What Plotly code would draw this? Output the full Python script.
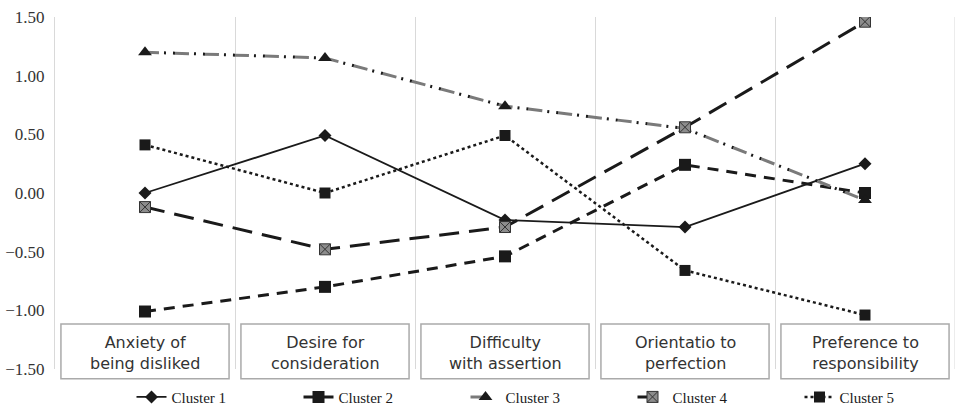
import plotly.graph_objects as go

categories = ["Anxiety of<br>being disliked", "Desire for<br>consideration",
              "Difficulty<br>with assertion", "Orientatio to<br>perfection",
              "Preference to<br>responsibility"]
series_names = ["Cluster 1", "Cluster 2", "Cluster 3", "Cluster 4", "Cluster 5"]
cluster1 = [0.00, 0.49, -0.23, -0.29, 0.25]
cluster2 = [-1.01, -0.80, -0.54, 0.24, 0.00]
cluster3 = [1.20, 1.15, 0.74, 0.55, -0.06]
cluster4 = [-0.12, -0.48, -0.29, 0.56, 1.46]
cluster5 = [0.41, 0.00, 0.49, -0.66, -1.04]
y_ticks = [1.5, 1.0, 0.5, 0.0, -0.5, -1.0, -1.5]

x = list(range(len(categories)))
fig = go.Figure()

fig.add_trace(go.Scatter(x=x, y=cluster1, name=series_names[0], mode="lines+markers",
                         line=dict(color="#1a1a1a", width=1.8, dash="solid"),
                         marker=dict(symbol="diamond", size=10, color="#1a1a1a")))
fig.add_trace(go.Scatter(x=x, y=cluster2, name=series_names[1], mode="lines+markers",
                         line=dict(color="#1a1a1a", width=3, dash="11px,8px"),
                         marker=dict(symbol="square", size=12, color="#1a1a1a")))
# cluster 3: gray dashes + black dots
fig.add_trace(go.Scatter(x=x, y=cluster3, name=series_names[2], mode="lines+markers",
                         line=dict(color="#7a7a7a", width=3, dash="14px,16px"),
                         marker=dict(symbol="triangle-up", size=12, color="#1a1a1a")))
fig.add_trace(go.Scatter(x=x, y=cluster3, name=series_names[2], mode="lines",
                         showlegend=False,
                         line=dict(color="#1a1a1a", width=3, dash="0px,19px,2px,7px,2px,0px")))
fig.add_trace(go.Scatter(x=x, y=cluster4, name=series_names[3], mode="lines+markers",
                         line=dict(color="#1a1a1a", width=3, dash="20px,10px"),
                         marker=dict(symbol="square-x", size=11, color="#8c8c8c",
                                     line=dict(color="#333333", width=1))))
fig.add_trace(go.Scatter(x=x, y=cluster5, name=series_names[4], mode="lines+markers",
                         line=dict(color="#1a1a1a", width=2.5, dash="dot"),
                         marker=dict(symbol="square", size=11, color="#1a1a1a")))

# right border gridline
fig.add_shape(type="line", xref="x", yref="paper", x0=4.5, x1=4.5, y0=0, y1=1,
              line=dict(color="#d9d9d9", width=1), layer="below")

# category boxes
for i, c in enumerate(categories):
    fig.add_shape(type="rect", xref="x", yref="paper", x0=i - 0.467, x1=i + 0.467,
                  y0=-0.028, y1=0.128, line=dict(color="#aaaaaa", width=1.5),
                  fillcolor="white", layer="above")
    fig.add_annotation(x=i, y=0.046, xref="x", yref="paper", text=c, showarrow=False,
                       font=dict(family="DejaVu Sans", size=16, color="#333333"),
                       align="center", yanchor="middle")

fig.update_layout(
    width=956, height=414,
    margin=dict(l=55, r=1, t=17, b=45, autoexpand=False),
    plot_bgcolor="white", paper_bgcolor="white",
    showlegend=True,
    legend=dict(orientation="h", x=0.085, xanchor="left", y=-0.08, yanchor="middle",
                entrywidth=122, entrywidthmode="pixels",
                font=dict(family="Liberation Serif", size=15, color="#1a1a1a"),
                bgcolor="rgba(0,0,0,0)"),
)
fig.update_xaxes(range=[-0.5, 4.5], tickvals=[0.5, 1.5, 2.5, 3.5, 4.5],
                 showticklabels=False, showgrid=True, gridcolor="#d9d9d9", gridwidth=1,
                 zeroline=False, showline=False, ticks="", automargin=False)
fig.update_yaxes(range=[-1.5, 1.5], tickvals=y_ticks, tickformat=".2f",
                 showgrid=False, zeroline=False, showline=True, linecolor="#d9d9d9",
                 ticks="outside", ticklen=6, tickcolor="rgba(0,0,0,0)", automargin=False,
                 ticklabeloverflow="allow",
                 tickfont=dict(family="Liberation Serif", size=17, color="#333333"))

fig.write_html("out.html", config={"displayModeBar": False},
               post_script="document.body.style.margin='0px';document.body.style.padding='0px';")
